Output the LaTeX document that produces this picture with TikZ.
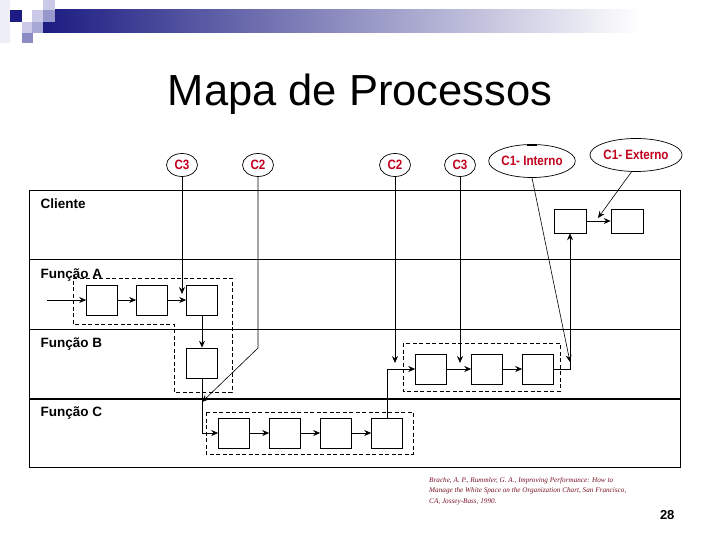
\documentclass[tikz,border=0pt]{standalone}
\usepackage{graphicx}
\usepackage{fontspec}
\setmainfont{Liberation Sans}
\newfontfamily\reffont{Liberation Serif}
\usetikzlibrary{
  positioning,
  arrows.meta,
  shapes.geometric
}
\definecolor{navy}{HTML}{1C1C82}
\definecolor{lilac}{HTML}{CACAE8}
\definecolor{lavender}{HTML}{9898CC}
\definecolor{haze}{HTML}{EEEEF6}
\definecolor{flowred}{HTML}{C0001C}
\definecolor{refred}{HTML}{7A1426}
\newcommand{\narrowlabel}[1]{\scalebox{0.86}[1]{#1}}

\begin{document}
\begin{tikzpicture}[
  x=1pt, y=-1pt,
  task/.style={draw, fill=white, line width=0.7pt, minimum width=31pt, minimum height=30pt,
               inner sep=0pt},
  ctask/.style={task, minimum width=32pt, minimum height=24pt},
  client/.style={draw, ellipse, line width=0.7pt, inner sep=0pt, text=flowred,
                 font=\bfseries\fontsize{13.5}{13.5}\selectfont},
  lane/.style={anchor=base west, font=\bfseries\fontsize{13.5}{14}\selectfont},
  fence/.style={draw, line width=0.7pt, dash pattern=on 4pt off 2.5pt},
  wire/.style={line width=0.6pt},
  arr/.style={-{Stealth[length=7pt,width=6pt,inset=2.5pt]}, line width=0.6pt}
]
  \useasboundingbox (0,0) rectangle (720,540);

  % Header
  \fill[haze] (0,0) rectangle (10,43);
  \shade[left color=navy, middle color=lavender!70!gray!70, right color=white]
    (43,10) rectangle (640,33);
  \fill[navy] (10,10) rectangle (22,22);
  \fill[lilac] (43,0) rectangle (55,10);
  \fill[lilac] (32,10) rectangle (43,22);
  \fill[lavender] (43,10) rectangle (55,22);
  \fill[lilac] (22,22) rectangle (32,33);
  \fill[lavender!85] (32,22) rectangle (43,33);
  \fill[lavender!90!navy] (22,33) rectangle (33,43);

  \node[anchor=base, font=\fontsize{43.5}{50}\selectfont] (title) at (360,106) {Mapa de Processos};

  % Lanes
  \draw[line width=0.8pt] (29,190) rectangle (680,467);
  \draw[line width=0.8pt] (29,259) -- (680,259);
  \draw[line width=0.8pt] (29,329) -- (680,329);
  \draw[line width=2pt] (29,399) -- (680,399);

  \node[lane] (cliente) at (37,208) {Cliente};
  \node[lane] (lanea) at (37,278) {Função A};
  \node[lane] (laneb) at (37,347) {Função B};
  \node[lane] (lanec) at (37,416) {Função C};

  % Groups
  \draw[fence] (73,278) -- (232,278) -- (232,392) -- (174,392) -- (174,324) -- (73,324) -- cycle;
  \draw[fence] (403,343) rectangle (560,391);
  \draw[fence] (206,412) rectangle (413,454);

  % Customers
  \node[client, minimum width=31pt, minimum height=23pt] (c3a) at (182,165) {\narrowlabel{C3}};
  \node[client, minimum width=31pt, minimum height=23pt] (c2a) at (258,165) {\narrowlabel{C2}};
  \node[client, minimum width=31pt, minimum height=23pt] (c2b) at (395,165) {\narrowlabel{C2}};
  \node[client, minimum width=31pt, minimum height=23pt] (c3b) at (460,165) {\narrowlabel{C3}};
  \node[client, minimum width=70pt, minimum height=33pt] (cint) at (532,161) {\narrowlabel{C1- Interno}};
  \node[client, minimum width=88pt, minimum height=33pt] (cext) at (636,155) {\narrowlabel{C1- Externo}};
  \draw[line width=1.6pt] (527,145) -- (537,145);

  % Tasks
  \node[ctask] (cl1) at (570,221) {};
  \node[ctask] (cl2) at (627,221) {};
  \node[task] (a1) at (102,300) {};
  \node[task] (a2) at (152,300) {};
  \node[task] (a3) at (202,300) {};
  \node[task] (b1) at (202,363) {};
  \node[task] (b2) at (431,369) {};
  \node[task] (b3) at (487,369) {};
  \node[task] (b4) at (538,369) {};
  \node[task] (f1) at (234,433) {};
  \node[task] (f2) at (285,433) {};
  \node[task] (f3) at (336,433) {};
  \node[task] (f4) at (387,433) {};

  % Free ends
  \coordinate (ina) at (47,300);
  \coordinate (tipa) at (182,294);
  \coordinate (kneeb) at (258,348);
  \coordinate (tipc) at (202,402);
  \coordinate (tipb) at (395,363);
  \coordinate (tipbb) at (460,363);
  \coordinate (tipint) at (570,362);
  \coordinate (tipext) at (598,218);

  % Flow
  \draw[arr] (ina) -- (a1);
  \draw[arr] (a1) -- (a2);
  \draw[arr] (a2) -- (a3);
  \draw[arr] (a3) -- (b1);
  \draw[wire] (b1.south) -- (b1.south |- f1.west);
  \draw[arr] (b1.south |- f1.west) -- (f1.west);
  \draw[arr] (f1) -- (f2);
  \draw[arr] (f2) -- (f3);
  \draw[arr] (f3) -- (f4);
  \draw[arr] (f4.north) |- (b2.west);
  \draw[arr] (b2) -- (b3);
  \draw[arr] (b3) -- (b4);
  \draw[arr] (b4.east) -| (cl1.south);
  \draw[arr] (cl1) -- (cl2);

  % From customers
  \draw[arr] (c3a.south) -- (tipa);
  \draw[arr] (c2a.south) -- (kneeb) -- (tipc);
  \draw[arr] (c2b.south) -- (tipb);
  \draw[arr] (c3b.south) -- (tipbb);
  \draw[arr] (cint.south) -- (tipint);
  \draw[arr] (cext.255) -- (tipext);

  % Source
  \node[anchor=north west, align=left, text=refred, inner sep=0pt,
        font=\reffont\itshape\fontsize{7.2}{10.5}\selectfont] (source) at (429,477)
    {Brache, A. P., Rummler, G. A., Improving Performance: How to\\
     Manage the White Space on the Organization Chart, San Francisco,\\
     CA, Jossey-Bass, 1990.};
  \node[anchor=base east, font=\bfseries\fontsize{13}{13}\selectfont] (page) at (678,519) {28};
\end{tikzpicture}
\end{document}
